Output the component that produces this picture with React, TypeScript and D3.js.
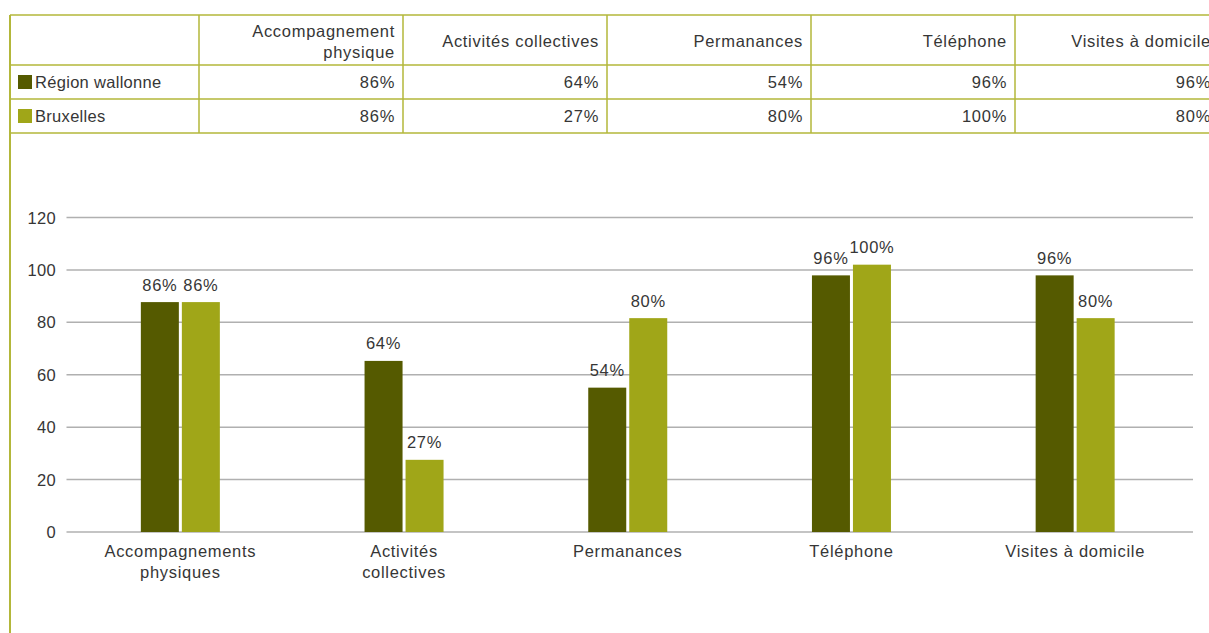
import React from "react";
import * as d3 from "d3";

// categories as written in the data table and under the x axis
const tableHeaders = [
  ["Accompagnement", "physique"],
  ["Activités collectives"],
  ["Permanances"],
  ["Téléphone"],
  ["Visites à domicile"],
];
const categories = [
  ["Accompagnements", "physiques"],
  ["Activités", "collectives"],
  ["Permanances"],
  ["Téléphone"],
  ["Visites à domicile"],
];
const seriesNames = ["Région wallonne", "Bruxelles"];
const seriesColors = ["#555a00", "#a0a618"];
const wallonie = [86, 64, 54, 96, 96];
const bruxelles = [86, 27, 80, 100, 80];
const yTicks = [0, 20, 40, 60, 80, 100, 120];

const FONT = "'Liberation Sans', Arial, sans-serif";
const TEXT = "#363636";
const BORDER = "#b3b73a";

const App = () => {
  const width = 1209;
  const height = 633;
  const values = [wallonie, bruxelles];

  // table geometry
  const colEdges = [10, 199, 403, 607, 811, 1015, 1219];
  const rowEdges = [15, 65, 99, 133];

  // chart scales
  const y = d3.scaleLinear().domain([0, 120]).range([532, 217.5]);
  // bars in the source sit ~2% above the grid values
  const yBar = y.copy().domain([0, 120 / 1.02]);
  const x0 = d3.scaleBand().domain(categories.map((_, i) => String(i))).range([68.5, 1187]);
  const x1 = d3.scaleBand().domain(seriesNames).range([0, 79]).paddingInner(3 / 41);

  const txt = { fontFamily: FONT, fontSize: 16.5, fill: TEXT, letterSpacing: 0.7 };

  return (
    <svg width={width} height={height} style={{ position: "absolute", left: 0, top: 0, background: "#fff" }}>
      {/* table */}
      <g>
        {rowEdges.map((ry, i) => (
          <line key={"r" + i} x1={10} x2={width} y1={ry} y2={ry} stroke={BORDER} strokeWidth={1.5} />
        ))}
        {colEdges.map((cx, i) => (
          <line key={"c" + i} x1={cx} x2={cx} y1={15} y2={i === 0 ? height : 133} stroke={BORDER} strokeWidth={i === 0 ? 2 : 1.5} />
        ))}
        {tableHeaders.map((lines, i) => (
          <text key={"h" + i} {...txt} textAnchor="end" dominantBaseline="central">
            {lines.map((l, j) => (
              <tspan key={j} x={colEdges[i + 2] - 8} y={lines.length === 1 ? 41 : 31 + j * 21}>
                {l}
              </tspan>
            ))}
          </text>
        ))}
        {seriesNames.map((name, s) => {
          const cy = s === 0 ? 82 : 116;
          return (
            <g key={name}>
              <rect x={18} y={cy - 7} width={14} height={14} fill={seriesColors[s]} />
              <text {...txt} x={35} y={cy} dominantBaseline="central" letterSpacing={0.3}>
                {name}
              </text>
              {values[s].map((v, i) => (
                <text key={i} {...txt} x={colEdges[i + 2] - 8} y={cy} textAnchor="end" dominantBaseline="central">
                  {v}%
                </text>
              ))}
            </g>
          );
        })}
      </g>

      {/* grid and y axis */}
      <g>
        {yTicks.map((t) => (
          <g key={t}>
            <line x1={66.5} x2={1193} y1={y(t)} y2={y(t)} stroke="#b0b0b0" strokeWidth={1.5} />
            <text {...txt} x={56} y={y(t)} textAnchor="end" dominantBaseline="central" letterSpacing={0.3}>
              {t}
            </text>
          </g>
        ))}
      </g>

      {/* bars */}
      <g>
        {categories.map((_, i) => {
          const gx = x0(String(i))! + x0.bandwidth() / 2 - 39.5;
          return (
            <g key={i} transform={`translate(${gx},0)`}>
              {seriesNames.map((name, s) => {
                const v = values[s][i];
                const bx = x1(name)!;
                return (
                  <g key={name}>
                    <rect x={bx} y={yBar(v)} width={x1.bandwidth()} height={y(0) - yBar(v)} fill={seriesColors[s]} />
                    <text {...txt} x={bx + x1.bandwidth() / 2} y={yBar(v) - 17.5} textAnchor="middle" dominantBaseline="central">
                      {v}%
                    </text>
                  </g>
                );
              })}
            </g>
          );
        })}
      </g>

      {/* x axis labels */}
      <g>
        {categories.map((lines, i) => (
          <text key={i} {...txt} textAnchor="middle" dominantBaseline="central">
            {lines.map((l, j) => (
              <tspan key={j} x={x0(String(i))! + x0.bandwidth() / 2} y={551 + j * 21}>
                {l}
              </tspan>
            ))}
          </text>
        ))}
      </g>
    </svg>
  );
};

export default App;
